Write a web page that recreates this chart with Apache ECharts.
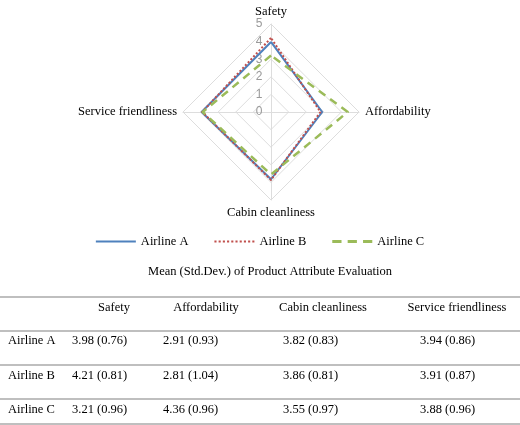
<!DOCTYPE html>
<html><head><meta charset="utf-8">
<script src="https://cdn.jsdelivr.net/npm/echarts@6/dist/echarts.min.js"></script>
<style>html,body{margin:0;padding:0;background:#fff}#c{width:520px;height:425px}</style>
</head><body><div id="c"></div>
<script>
const attributes = ['Safety', 'Service friendliness', 'Cabin cleanliness', 'Affordability'];
const airlines = ['Airline A', 'Airline B', 'Airline C'];
const valuesA = [3.98, 3.94, 3.82, 2.91];
const valuesB = [4.21, 3.91, 3.86, 2.81];
const valuesC = [3.21, 3.88, 3.55, 4.36];
const tableTitle = 'Mean (Std.Dev.) of Product Attribute Evaluation';
const tableHeaders = ['Safety', 'Affordability', 'Cabin cleanliness', 'Service friendliness'];
const tableRows = [
  ['3.98 (0.76)', '2.91 (0.93)', '3.82 (0.83)', '3.94 (0.86)'],
  ['4.21 (0.81)', '2.81 (1.04)', '3.86 (0.81)', '3.91 (0.87)'],
  ['3.21 (0.96)', '4.36 (0.96)', '3.55 (0.97)', '3.88 (0.96)']
];
const serif = '"Liberation Serif", "Times New Roman", serif';
const colors = ['#4F81BD', '#C0504D', '#9BBB59'];

const g = [];
const txt = (x, y, s, align, size) => g.push({type:'text', x, y, style:{text:s, fill:'#000', font: (size||12.5)+'px '+serif, textAlign: align||'left', textVerticalAlign:'middle'}});
const line = (y) => g.push({type:'line', shape:{x1:0,y1:y,x2:520,y2:y}, style:{stroke:'#aaa', lineWidth:1.5}});
txt(270, 272, tableTitle, 'center', 12.5);
line(297); line(331); line(365); line(399); line(424);
const hx = [130, 206, 323, 457];
const vx = [72, 163, 283, 420];
tableHeaders.forEach((h,i)=> txt(hx[i], 308, h, i===0?'right':'center'));
tableRows.forEach((r,j)=>{
  const y = 341 + j*34.3;
  txt(8, y, airlines[j], 'left');
  r.forEach((v,i)=> txt(vx[i], y, v, 'left'));
});

const iconSolid = 'path://M0,4L40,4L40,6L0,6Z';
const iconDot = 'path://' + Array.from({length:10},(_,k)=>`M${k*4},4L${k*4+2},4L${k*4+2},6L${k*4},6Z`).join('');
const iconDash = 'path://' + Array.from({length:3},(_,k)=>`M${k*15},3.5L${k*15+9},3.5L${k*15+9},6.5L${k*15},6.5Z`).join('');
const icons = [iconSolid, iconDot, iconDash];

const chart = echarts.init(document.getElementById('c'));
chart.setOption({
  animation:false,
  color: colors,
  legend: {
    data: airlines.map((n,i)=>({name:n, icon:icons[i]})), left:'center', top: 230, itemWidth: 40, itemHeight: 8, itemGap: 26,
    textStyle:{fontFamily:serif, fontSize:12.5, color:'#000'}
  },
  radar: {
    center:[271,112], radius:88, shape:'polygon', splitNumber:5, startAngle:90,
    indicator: attributes.map(n=>({name:n, min:0, max:5})),
    axisName:{color:'#000', fontFamily:serif, fontSize:12.5},
    nameGap: 6,
    splitLine:{lineStyle:{color:'#ddd'}},
    axisLine:{lineStyle:{color:'#ddd'}},
    splitArea:{show:false}
  },
  polar: {center:[259,112], radius:88},
  angleAxis: {show:false, min:0, max:360},
  radiusAxis: {min:0, max:5, interval:1, axisLine:{show:false}, axisTick:{show:false}, splitLine:{show:false},
    axisLabel:{color:'#999', fontFamily:'"Liberation Sans", Arial', fontSize:12, margin:0, align:'center', verticalAlign:'middle'}},
  series: [{
    type:'radar', symbol:'none',
    data: [
      {name:airlines[0], value:valuesA, lineStyle:{color:colors[0], width:2, type:'solid'}, itemStyle:{color:colors[0]}},
      {name:airlines[1], value:valuesB, lineStyle:{color:colors[1], width:2, type:'dotted'}, itemStyle:{color:colors[1]}},
      {name:airlines[2], value:valuesC, lineStyle:{color:colors[2], width:2.5, type:[8,6]}, itemStyle:{color:colors[2]}}
    ]
  }],
  graphic: g
});
</script></body></html>
